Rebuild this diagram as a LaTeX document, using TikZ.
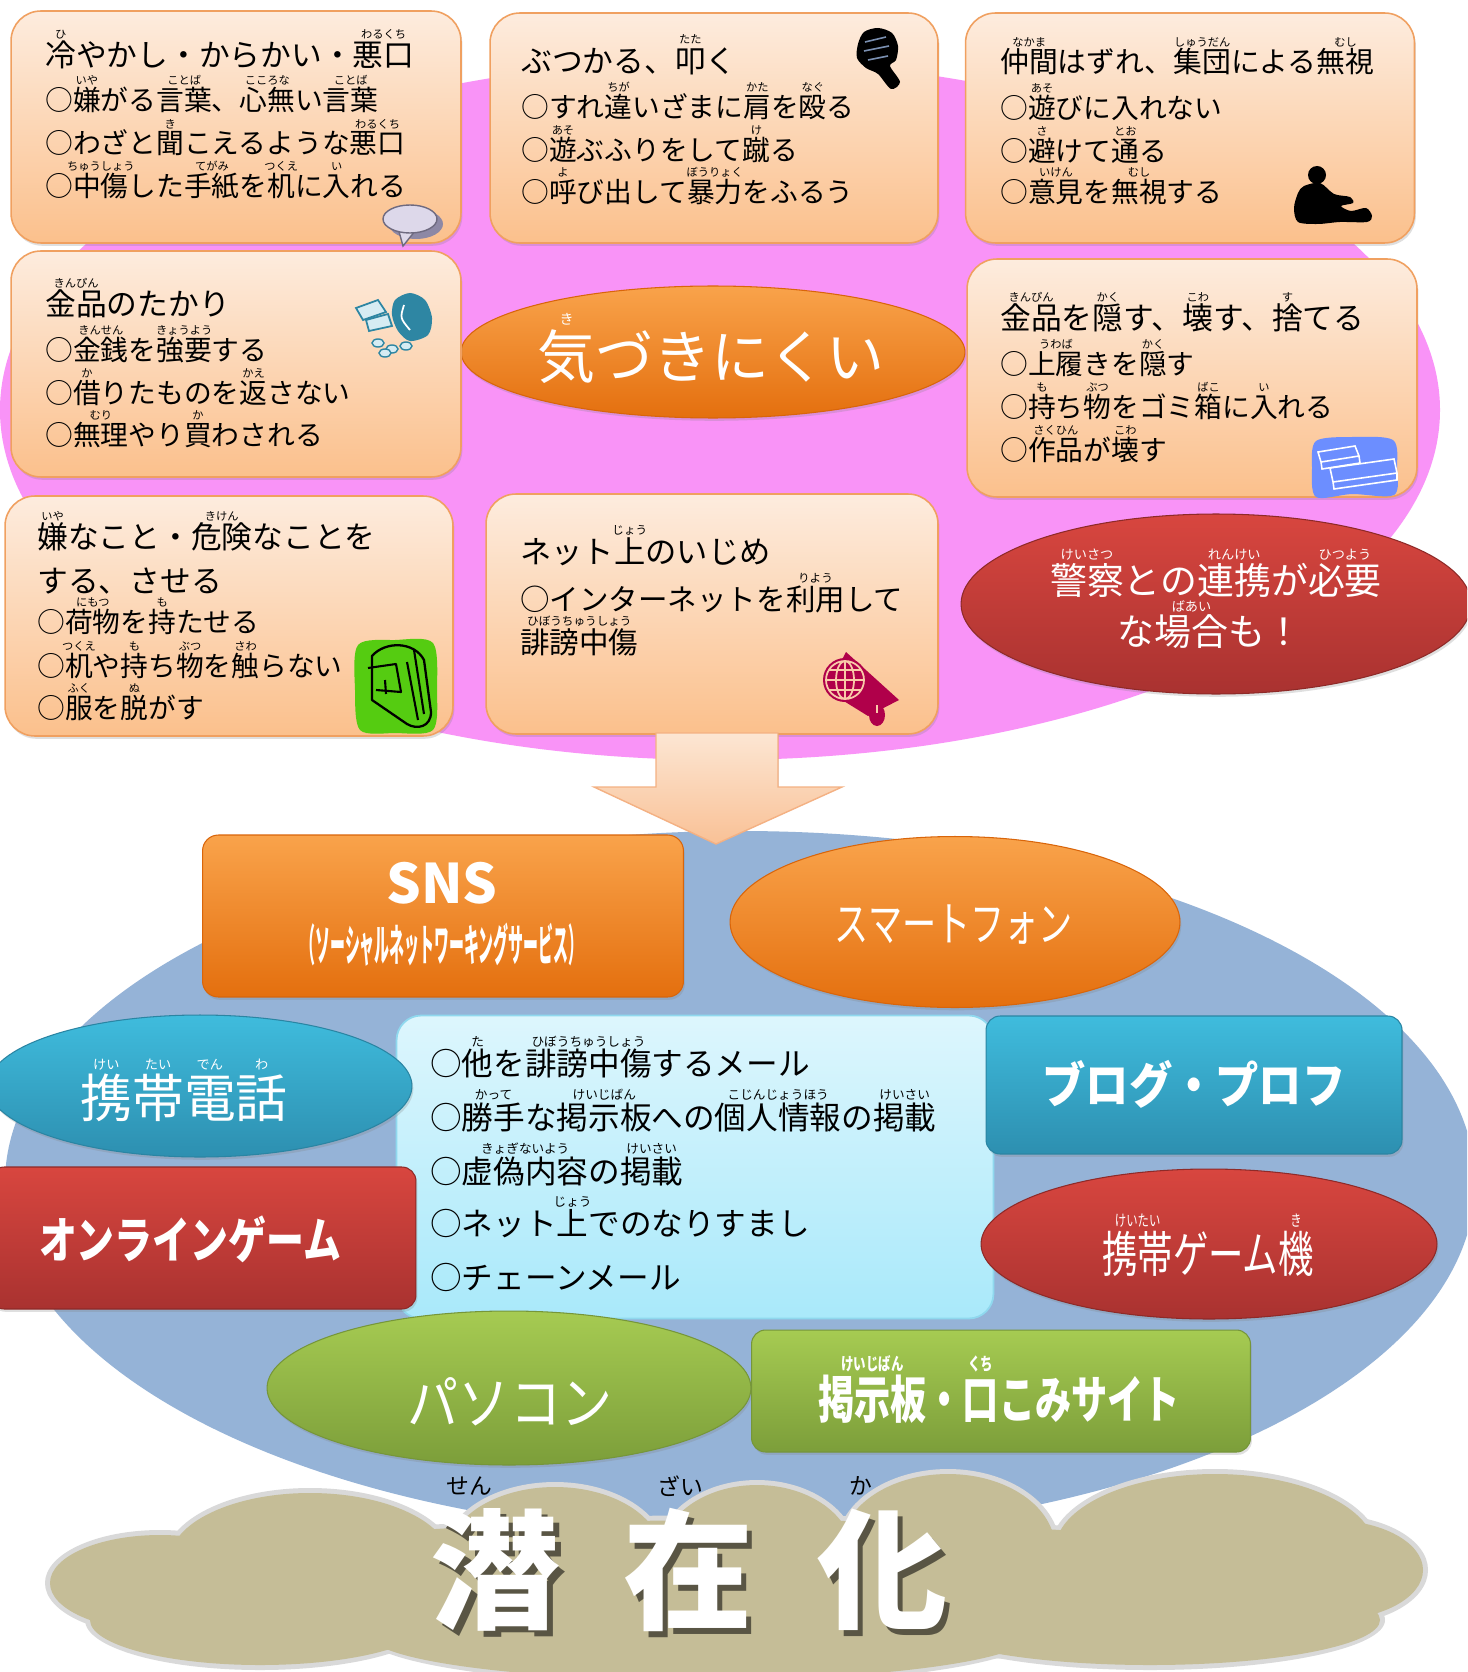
\documentclass[tikz,border=0pt]{standalone}
\usepackage{fontspec}
\setmainfont{Noto Sans CJK JP}
\usepackage{graphicx}
\usetikzlibrary{shapes.geometric,shadows}

% colours
\definecolor{pinkbg}{HTML}{F993F7}
\definecolor{bluebg}{HTML}{95B3D7}
\definecolor{peachtop}{HTML}{FDECDE}
\definecolor{peachbot}{HTML}{FBC08C}
\definecolor{boxedge}{HTML}{F0A060}
\definecolor{orgtop}{HTML}{F9A34B}
\definecolor{orgbot}{HTML}{E46F0E}
\definecolor{orgedge}{HTML}{D9650A}
\definecolor{redtop}{HTML}{D8463F}
\definecolor{redbot}{HTML}{A93230}
\definecolor{rededge}{HTML}{8E2A28}
\definecolor{cyantop}{HTML}{3FBCDD}
\definecolor{cyanbot}{HTML}{2D8FB0}
\definecolor{cyanedge}{HTML}{2A85A3}
\definecolor{greentop}{HTML}{A6CB52}
\definecolor{greenbot}{HTML}{7C9E3A}
\definecolor{greenedge}{HTML}{76963A}
\definecolor{ltop}{HTML}{DDF6FD}
\definecolor{lbot}{HTML}{A9E9FA}
\definecolor{ledge}{HTML}{8FD8EE}
\definecolor{arrtop}{HTML}{FCE6D3}
\definecolor{arrbot}{HTML}{F9C196}
\definecolor{arredge}{HTML}{F4B183}
\definecolor{cloudfill}{HTML}{C5BD97}
\definecolor{cloudedge}{HTML}{D9D9D9}
\colorlet{shade}{cloudfill!45!black}
\definecolor{bubfill}{HTML}{DDD8EA}
\definecolor{bubedge}{HTML}{6E6A80}
\definecolor{bubshade}{HTML}{8D88A5}
\definecolor{bagteal}{HTML}{2E86A3}
\definecolor{bagnote}{HTML}{D6ECF3}
\definecolor{bookblue}{HTML}{6C8EFF}
\definecolor{packgreen}{HTML}{55CC11}
\definecolor{globered}{HTML}{B0004A}
\definecolor{globeline}{HTML}{F9C9A8}
\definecolor{fistline}{HTML}{7A8FB0}

% ruby (furigana) over a base text
\newsavebox\furibox
\newcommand\rubysize{6pt}
\newcommand\rsz[1]{\def\rubysize{#1}}
\newcommand\furi[2]{\sbox\furibox{#1}\makebox[0pt][l]{\raisebox{0.93em}[0pt][0pt]{\makebox[\wd\furibox][c]{\fontsize{\rubysize}{\rubysize}\selectfont#2}}}\usebox\furibox}

% white letter with a dark shadow to the lower right
\newcommand\softshadow[1]{%
  \makebox[0pt][l]{\hspace{3.4pt}\raisebox{-3.4pt}[0pt][0pt]{\textcolor{shade}{#1}}}%
  \textcolor{white}{#1}}

\begin{document}
\begin{tikzpicture}[x=0.02cm, y=-0.02cm,
  topbox/.style={draw=boxedge, line width=0.9pt, rounded corners=17pt,
    top color=peachtop, bottom color=peachbot, inner sep=0pt,
    drop shadow={opacity=0.25, shadow xshift=0.8pt, shadow yshift=-1.6pt}},
  shapebox/.style={inner sep=0pt, line width=0.6pt,
    drop shadow={opacity=0.25, shadow xshift=0.8pt, shadow yshift=-1.6pt}},
  orangefill/.style={top color=orgtop, bottom color=orgbot, draw=orgedge},
  redfill/.style={top color=redtop, bottom color=redbot, draw=rededge},
  cyanfill/.style={top color=cyantop, bottom color=cyanbot, draw=cyanedge},
  greenfill/.style={top color=greentop, bottom color=greenbot, draw=greenedge},
  txt/.style={anchor=west, inner sep=0pt, text=black},
  ttl/.style={txt, font=\fontsize{17.5pt}{20pt}\selectfont\rsz{6.4pt}},
  body/.style={txt, font=\fontsize{15.8pt}{19pt}\selectfont\rsz{6.4pt}},
  netbody/.style={txt, font=\fontsize{16.8pt}{19pt}\selectfont\rsz{6.6pt}},
  lbody/.style={txt, font=\fontsize{18pt}{20pt}\selectfont\rsz{7.2pt}},
  wlabel/.style={inner sep=0pt, text=white},
  bigk/.style={inner sep=0pt, font=\bfseries\fontsize{74pt}{74pt}\selectfont},
]
\useasboundingbox (0,0) rectangle (1467,1672);
\clip (0,0) rectangle (1467,1672);
\fill[white] (0,0) rectangle (1467,1672);

% ---------- upper part: kinds of bullying ----------
\fill[pinkbg] (720,410) ellipse [x radius=720, y radius=350];

\node[ellipse, shapebox, orangefill, minimum width=10.08cm, minimum height=2.64cm] (kz) at (713,352) {};
\node[wlabel, font=\fontsize{33pt}{33pt}\selectfont\rsz{8pt}] (kzT) at (711,357) {\furi{気}{き}づきにくい};

\node[topbox, minimum width=9cm, minimum height=4.64cm] (b1) at (236,127) {};
\node[topbox, minimum width=8.96cm, minimum height=4.6cm] (b2) at (714,128) {};
\node[topbox, minimum width=8.98cm, minimum height=4.6cm] (b3) at (1190,128) {};
\node[topbox, minimum width=9cm, minimum height=4.52cm] (b4) at (236,364) {};
\node[topbox, minimum width=9cm, minimum height=4.76cm] (b5) at (1192,378) {};
\node[topbox, minimum width=8.96cm, minimum height=4.8cm] (b6) at (229,616) {};
\node[topbox, minimum width=9.04cm, minimum height=4.8cm] (b7) at (712,614) {};

% box 1
\node[ttl] (b1l0) at (45,55) {\furi{冷}{ひ}やかし・からかい・\furi{悪口}{わるくち}};
\node[body] (b1l1) at (45,100) {○\furi{嫌}{いや}がる\furi{言葉}{ことば}、\furi{心無}{こころな}い\furi{言葉}{ことば}};
\node[body] (b1l2) at (45,143) {○わざと\furi{聞}{き}こえるような\furi{悪口}{わるくち}};
\node[body] (b1l3) at (45,186) {○\furi{中傷}{ちゅうしょう}した\furi{手紙}{てがみ}を\furi{机}{つくえ}に\furi{入}{い}れる};
% box 2
\node[ttl] (b2l0) at (521,61) {ぶつかる、\furi{叩}{たた}く};
\node[body] (b2l1) at (521,107) {○すれ\furi{違}{ちが}いざまに\furi{肩}{かた}を\furi{殴}{なぐ}る};
\node[body] (b2l2) at (521,150) {○\furi{遊}{あそ}ぶふりをして\furi{蹴}{け}る};
\node[body] (b2l3) at (521,192) {○\furi{呼}{よ}び出して\furi{暴力}{ぼうりょく}をふるう};
% box 3
\node[txt, font=\fontsize{16.4pt}{20pt}\selectfont\rsz{6.4pt}] (b3l0) at (1000,62) {\furi{仲間}{なかま}はずれ、\furi{集団}{しゅうだん}による\furi{無視}{むし}};
\node[body] (b3l1) at (1000,108) {○\furi{遊}{あそ}びに入れない};
\node[body] (b3l2) at (1000,151) {○\furi{避}{さ}けて\furi{通}{とお}る};
\node[body] (b3l3) at (1000,192) {○\furi{意見}{いけん}を\furi{無視}{むし}する};
% box 4
\node[ttl] (b4l0) at (45,304) {\furi{金品}{きんぴん}のたかり};
\node[body] (b4l1) at (45,350) {○\furi{金銭}{きんせん}を\furi{強要}{きょうよう}する};
\node[body] (b4l2) at (45,393) {○\furi{借}{か}りたものを\furi{返}{かえ}さない};
\node[body] (b4l3) at (45,435) {○\furi{無理}{むり}やり\furi{買}{か}わされる};
% box 5
\node[ttl] (b5l0) at (1000,318) {\furi{金品}{きんぴん}を\furi{隠}{かく}す、\furi{壊}{こわ}す、\furi{捨}{す}てる};
\node[body] (b5l1) at (1000,364) {○\furi{上履}{うわば}きを\furi{隠}{かく}す};
\node[body] (b5l2) at (1000,407) {○\furi{持}{も}ち\furi{物}{ぶつ}をゴミ\furi{箱}{ばこ}に\furi{入}{い}れる};
\node[body] (b5l3) at (1000,450) {○\furi{作品}{さくひん}が\furi{壊}{こわ}す};
% box 6
\node[ttl] (b6l0) at (37,537) {\furi{嫌}{いや}なこと・\furi{危険}{きけん}なことを};
\node[ttl] (b6l1) at (37,581) {する、させる};
\node[body] (b6l2) at (37,622) {○\furi{荷物}{にもつ}を\furi{持}{も}たせる};
\node[body] (b6l3) at (37,666) {○\furi{机}{つくえ}や\furi{持}{も}ち\furi{物}{ぶつ}を\furi{触}{さわ}らない};
\node[body] (b6l4) at (37,708) {○\furi{服}{ふく}を\furi{脱}{ぬ}がす};
% box 7
\node[txt, font=\fontsize{17.8pt}{20pt}\selectfont\rsz{6.6pt}] (b7l0) at (520,552) {ネット\furi{上}{じょう}のいじめ};
\node[netbody] (b7l1) at (520,599) {○インターネットを\furi{利用}{りよう}して};
\node[netbody] (b7l2) at (520,642) {\furi{誹謗中傷}{ひぼうちゅうしょう}};

% police ellipse
\node[ellipse, shapebox, redfill, minimum width=10.2cm, minimum height=3.6cm] (pol) at (1216,604) {};
\node[wlabel, font=\fontsize{21pt}{21pt}\selectfont\rsz{7.5pt}] (polA) at (1216,580) {\furi{警察}{けいさつ}との\furi{連携}{れんけい}が\furi{必要}{ひつよう}};
\node[wlabel, font=\fontsize{21pt}{21pt}\selectfont\rsz{7.5pt}] (polB) at (1210,632) {な\furi{場合}{ばあい}も！};

% ---------- icons ----------
% speech bubble
\fill[bubshade] (416,224) ellipse [x radius=27, y radius=15];
\filldraw[fill=bubfill, draw=bubedge, line width=0.8pt] (398,228) -- (403,246) -- (415,231) -- cycle;
\filldraw[fill=bubfill, draw=bubedge, line width=0.8pt] (410,219) ellipse [x radius=27, y radius=14];
% fist
\fill[black] plot[smooth cycle] coordinates {(858,44) (864,32) (878,28) (892,33) (898,46) (896,60) (890,66) (900,82) (891,89) (878,74) (866,68) (857,58)};
\draw[fistline, line width=0.9pt] (865,42) -- (886,37) (864,51) -- (889,46) (868,60) -- (888,56);
% sitting figure
\fill[black] (1317,175) circle [radius=9];
\fill[black] plot[smooth cycle] coordinates {(1304,186) (1320,183) (1334,194) (1350,197) (1353,203) (1341,206) (1351,211) (1366,208) (1372,216) (1367,222) (1340,222) (1318,224) (1298,222) (1294,208) (1298,193)};
% money bag
\fill[bagteal] plot[smooth cycle] coordinates {(395,300) (410,293) (425,300) (432,318) (428,335) (410,341) (398,331) (392,315)};
\draw[white, line width=1pt] (404,305) .. controls (400,318) .. (410,330);
\filldraw[fill=bagnote, draw=bagteal, line width=1pt] (356,308) -- (378,300) -- (386,312) -- (363,320) -- cycle;
\filldraw[fill=bagnote, draw=bagteal, line width=1pt] (366,320) -- (388,314) -- (392,326) -- (369,331) -- cycle;
\foreach \px/\py in {378/343, 392/349, 406/346, 385/353}
  \filldraw[fill=bagnote, draw=bagteal, line width=0.8pt] (\px,\py) ellipse [x radius=6, y radius=4];
% books
\fill[bookblue] plot[smooth cycle] coordinates {(1316,441) (1352,437) (1393,440) (1397,468) (1394,495) (1352,494) (1316,497) (1312,468)};
\draw[white, line width=0.9pt] (1318,452) -- (1355,446) -- (1359,456) -- (1321,462) -- cycle (1321,462) -- (1322,469) -- (1360,463) -- (1359,456);
\draw[white, line width=0.9pt] (1330,468) -- (1394,459) -- (1397,473) -- (1333,482) -- cycle (1333,482) -- (1334,489) -- (1397,480) -- (1397,473);
% backpack
\fill[packgreen] plot[smooth cycle] coordinates {(358,645) (395,640) (433,643) (437,690) (433,730) (395,733) (360,730) (355,690)};
\draw[black, line width=1.3pt, line join=round] (372,656) .. controls (385,641) and (414,641) .. (424,660) -- (431,712) .. controls (431,727) and (417,730) .. (407,724) -- (372,700) -- cycle;
\draw[black, line width=1.2pt, line join=round] (368,668) -- (396,664) -- (401,692) -- (376,690) (385,680) -- (386,694) (407,662) -- (418,720) (414,650) -- (424,714);
% globe
\fill[globered] (846,652) -- (899,700) -- (868,716) -- (826,690) -- cycle;
\fill[globered] (845,680) circle [radius=22];
\draw[globeline, line width=1pt] (845,680) circle [radius=19] (826,680) -- (864,680) (845,661) -- (845,699) (845,680) ellipse [x radius=9, y radius=19] (829,670) -- (861,670) (829,690) -- (861,690);
\fill[globered] (877,715) ellipse [x radius=8, y radius=11];
\draw[globeline, line width=0.8pt] (877,705) -- (877,713);

% ---------- lower part: where it happens ----------
\fill[bluebg] (740,1183) ellipse [x radius=735, y radius=352];

\node[rounded corners=14pt, minimum width=11.94cm, minimum height=6.06cm, top color=ltop, bottom color=lbot, draw=ledge, line width=1pt] (net) at (695,1167) {};
\node[lbody] (n1) at (430,1064) {○\furi{他}{た}を\furi{誹謗中傷}{ひぼうちゅうしょう}するメール};
\node[lbody] (n2) at (430,1117) {○\furi{勝手}{かって}な\furi{掲示板}{けいじばん}への\furi{個人情報}{こじんじょうほう}の\furi{掲載}{けいさい}};
\node[lbody] (n3) at (430,1171) {○\furi{虚偽内容}{きょぎないよう}の\furi{掲載}{けいさい}};
\node[lbody] (n4) at (430,1224) {○ネット\furi{上}{じょう}でのなりすまし};
\node[lbody] (n5) at (430,1277) {○チェーンメール};

\node[shapebox, rounded corners=9pt, orangefill, minimum width=9.62cm, minimum height=3.24cm] (sns) at (443,916) {};
\node[wlabel, font=\bfseries\fontsize{31pt}{31pt}\selectfont] (snsT) at (442,883) {SNS};
\node[wlabel, font=\bfseries\fontsize{25pt}{25pt}\selectfont] (snsS) at (442,945) {\scalebox{0.34}[1]{（ソーシャルネットワーキングサービス）}};

\node[ellipse, shapebox, orangefill, minimum width=9cm, minimum height=3.42cm] (sp) at (955,922) {};
\node[wlabel, font=\fontsize{27pt}{27pt}\selectfont] (spT) at (954,925) {\scalebox{0.72}[1]{スマートフォン}};

\node[ellipse, shapebox, cyanfill, minimum width=8.48cm, minimum height=2.84cm] (kt) at (200,1086) {};
\node[wlabel, font=\fontsize{29.5pt}{30pt}\selectfont\rsz{7.5pt}] (ktT) at (184,1098) {\furi{携}{けい}\furi{帯}{たい}\furi{電}{でん}\furi{話}{わ}};

\node[shapebox, rounded corners=8pt, redfill, minimum width=8.52cm, minimum height=2.84cm] (ol) at (203,1238) {};
\node[wlabel, font=\bfseries\fontsize{28pt}{28pt}\selectfont] (olT) at (190,1239) {\scalebox{0.77}[1]{オンラインゲーム}};

\node[shapebox, rounded corners=8pt, cyanfill, minimum width=8.32cm, minimum height=2.76cm] (blog) at (1194,1085) {};
\node[wlabel, font=\bfseries\fontsize{28pt}{28pt}\selectfont] (blogT) at (1194,1084) {\scalebox{0.88}[1]{ブログ・プロフ}};

\node[ellipse, shapebox, redfill, minimum width=9.12cm, minimum height=3cm] (gm) at (1209,1244) {};
\node[wlabel, font=\fontsize{28pt}{28pt}\selectfont\rsz{9pt}] (gmT) at (1208,1254) {\scalebox{0.72}[1]{\furi{携帯}{けいたい}ゲーム\furi{機}{き}}};

\node[ellipse, shapebox, greenfill, minimum width=9.68cm, minimum height=3.08cm] (pc) at (509,1388) {};
\node[wlabel, font=\fontsize{33pt}{33pt}\selectfont] (pcT) at (510,1402) {\scalebox{0.88}[1]{パソコン}};

\node[shapebox, rounded corners=8pt, greenfill, minimum width=9.98cm, minimum height=2.44cm] (bbs) at (1001,1391) {};
\node[wlabel, font=\bfseries\fontsize{29pt}{29pt}\selectfont\rsz{10pt}] (bbsT) at (999,1399) {\scalebox{0.71}[1]{\furi{掲示板}{けいじばん}・\furi{口}{くち}こみサイト}};

% arrow from the upper part down to the lower part
\filldraw[top color=arrtop, bottom color=arrbot, draw=arredge, line width=0.8pt]
  (656,733) -- (778,733) -- (778,787) -- (842,787) -- (716,844) -- (594,787) -- (656,787) -- cycle;

% ---------- cloud ----------
\foreach \cx/\cy/\rx/\ry in {160/1583/110/48, 310/1560/140/67, 555/1555/107/68, 757/1555/96/70, 948/1548/107/74, 1215/1550/160/76, 1330/1570/93/50, 260/1620/170/45, 700/1635/330/45, 1150/1620/230/45, 740/1590/620/70}
  \fill[cloudedge] (\cx,\cy) ellipse [x radius=\rx+5, y radius=\ry+5];
\foreach \cx/\cy/\rx/\ry in {160/1583/110/48, 310/1560/140/67, 555/1555/107/68, 757/1555/96/70, 948/1548/107/74, 1215/1550/160/76, 1330/1570/93/50, 260/1620/170/45, 700/1635/330/45, 1150/1620/230/45, 740/1590/620/70}
  \fill[cloudfill] (\cx,\cy) ellipse [x radius=\rx, y radius=\ry];

% big title
\node[bigk] (k1) at (496,1570) {\softshadow{潜}};
\node[bigk] (k2) at (688,1570) {\softshadow{在}};
\node[bigk] (k3) at (882,1570) {\softshadow{化}};
\node[inner sep=0pt, font=\fontsize{13pt}{13pt}\selectfont] (r1) at (469,1486) {せん};
\node[inner sep=0pt, font=\fontsize{13pt}{13pt}\selectfont] (r2) at (680,1486) {ざい};
\node[inner sep=0pt, font=\fontsize{13pt}{13pt}\selectfont] (r3) at (861,1486) {か};
\end{tikzpicture}
\end{document}
